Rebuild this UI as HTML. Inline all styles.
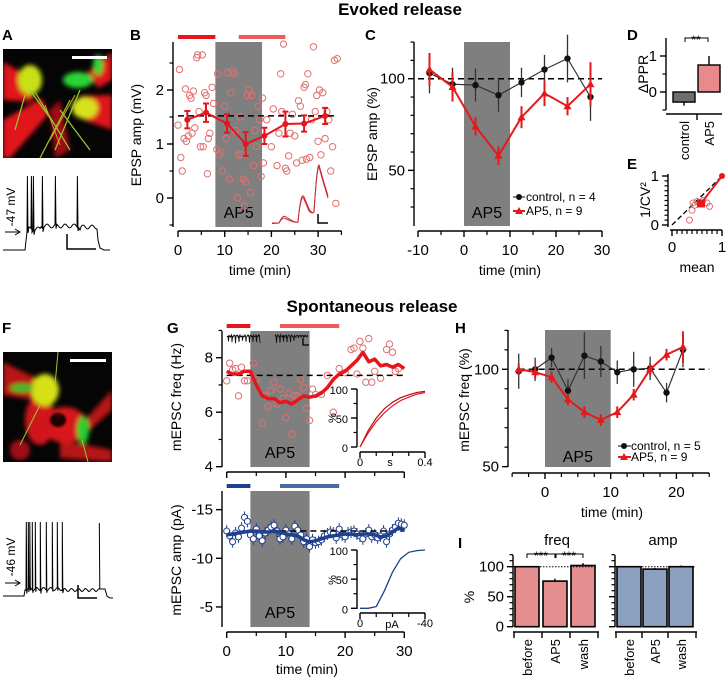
<!DOCTYPE html>
<html><head><meta charset="utf-8">
<style>
html,body{margin:0;padding:0;background:#fff;}
svg{display:block;font-family:"Liberation Sans",Arial,sans-serif;}
</style></head>
<body>
<svg id="fig" width="726" height="681" viewBox="0 0 726 681" xmlns="http://www.w3.org/2000/svg">
<defs>
<filter id="blur2" x="-20%" y="-20%" width="140%" height="140%"><feGaussianBlur stdDeviation="2.5"/></filter>
<filter id="blur1"><feGaussianBlur stdDeviation="1"/></filter>
<clipPath id="clipA"><rect x="3" y="49" width="109" height="109"/></clipPath>
<clipPath id="clipF"><rect x="3" y="352" width="109" height="110"/></clipPath>
</defs>
<text x="400" y="15" text-anchor="middle" font-size="17" font-weight="bold">Evoked release</text>
<text x="372" y="312" text-anchor="middle" font-size="17" font-weight="bold">Spontaneous release</text>
<g font-size="15" font-weight="bold">
<text x="2" y="40">A</text>
<text x="130" y="40">B</text>
<text x="365" y="40">C</text>
<text x="627" y="40">D</text>
<text x="627" y="169">E</text>
<text x="2" y="333">F</text>
<text x="167" y="333">G</text>
<text x="455" y="333">H</text>
<text x="458" y="548">I</text>
</g>
<!-- Image A -->
<g clip-path="url(#clipA)">
<rect x="3" y="49" width="109" height="109" fill="#050505"/>
<g filter="url(#blur2)">
<polygon points="3,62 35,80 32,102 3,100" fill="#e0161a"/>
<polygon points="3,120 42,98 48,115 10,158 3,158" fill="#e0161a"/>
<polygon points="112,52 88,72 98,88 112,80" fill="#e0161a"/>
<polygon points="112,95 80,96 84,120 112,130" fill="#e0161a"/>
<polygon points="50,110 60,100 70,150 55,158" fill="#a01014"/>
<ellipse cx="30" cy="80" rx="12" ry="15" fill="#c9e018"/>
<ellipse cx="85" cy="108" rx="13" ry="11" fill="#d6e21a"/>
<ellipse cx="78" cy="80" rx="15" ry="8" fill="#2bd636"/>
<ellipse cx="98" cy="65" rx="5" ry="10" fill="#2bd636"/>
</g>
<path d="M30,90 L55,125 M35,92 L70,150 M80,90 L55,150 M70,100 L40,158 M25,95 L15,130 M60,110 L90,150" stroke="#9acb30" stroke-width="1.2" fill="none"/>
<path d="M45,105 L60,145 M75,95 L50,140" stroke="#c8a020" stroke-width="1" fill="none"/>
<rect x="72" y="56" width="35" height="3" fill="#fff"/>
</g>
<!-- Image F -->
<g clip-path="url(#clipF)">
<rect x="3" y="352" width="109" height="110" fill="#050505"/>
<g filter="url(#blur2)">
<polygon points="3,362 40,380 35,400 3,395" fill="#b81418"/>
<polygon points="112,390 85,420 90,430 112,410" fill="#b81418"/>
<polygon points="60,440 112,450 112,462 60,458" fill="#b81418"/>
<ellipse cx="65" cy="425" rx="22" ry="18" fill="#d8181c"/>
<ellipse cx="40" cy="420" rx="15" ry="25" fill="#d0161a"/>
<ellipse cx="20" cy="450" rx="10" ry="10" fill="#a01014"/>
<ellipse cx="45" cy="390" rx="14" ry="16" fill="#d6e018"/>
<ellipse cx="83" cy="430" rx="6" ry="14" fill="#22d030"/>
<ellipse cx="22" cy="388" rx="12" ry="4" fill="#20c02a"/>
</g>
<ellipse cx="58" cy="420" rx="8" ry="7" fill="#200000" filter="url(#blur1)"/>
<path d="M55,385 L58,352 M40,405 L20,445 M82,440 L88,462" stroke="#9acb30" stroke-width="1" fill="none"/>
<rect x="70" y="359" width="36" height="3" fill="#fff"/>
</g>
</svg>
<script>
const NS='http://www.w3.org/2000/svg';
const S=document.getElementById('fig');
function mk(tag,a,p){const e=document.createElementNS(NS,tag);for(const k in a)e.setAttribute(k,a[k]);(p||S).appendChild(e);return e;}
function txt(x,y,s,a,p){const e=mk('text',Object.assign({x:x,y:y},a||{}),p);e.textContent=s;return e;}
function grp(name){const g=mk('g',{});return g;}
function yAx(g,x,y1,y2,maj,lab,min,sc,fs){
  mk('line',{x1:x,x2:x,y1:y1,y2:y2,stroke:'#000','stroke-width':1.4},g);
  maj.forEach((v,i)=>{const y=sc(v);mk('line',{x1:x-6,x2:x,y1:y,y2:y,stroke:'#000','stroke-width':1.4},g);
    const t=txt(x-9,y+5,lab[i],{'text-anchor':'end','font-size':fs||15},g);
    
    });
  min.forEach(v=>{const y=sc(v);mk('line',{x1:x-3.5,x2:x,y1:y,y2:y,stroke:'#000','stroke-width':1.2},g);});
}
function xAx(g,y,x1,x2,maj,lab,min,sc,fs,off){
  mk('line',{x1:x1,x2:x2,y1:y,y2:y,stroke:'#000','stroke-width':1.4},g);
  maj.forEach((v,i)=>{const x=sc(v);mk('line',{x1:x,x2:x,y1:y,y2:y+6,stroke:'#000','stroke-width':1.4},g);
    if(lab){const t=txt(x,y+(off||23),lab[i],{'text-anchor':'middle','font-size':fs||15},g);
    
    }});
  min.forEach(v=>{const x=sc(v);mk('line',{x1:x,x2:x,y1:y,y2:y+4,stroke:'#000','stroke-width':1.2},g);});
}
function ylabel(x,y,s,fs,name){const t=txt(0,0,s,{'text-anchor':'middle','font-size':fs||14,transform:'translate('+x+','+y+') rotate(-90)'});
  
  return t;}
function pathD(pts){return pts.map((p,i)=>(i?'L':'M')+p[0].toFixed(1)+','+p[1].toFixed(1)).join(' ');}
function tri(x,y,r){return (x)+','+(y-r)+' '+(x-r)+','+(y+r*0.75)+' '+(x+r)+','+(y+r*0.75);}

/* ===== Panel A & F traces ===== */
(function(){
 const gA=grp('current-clamp-trace-a');
 let p=[[3,250],[25,250],[27,232]];
 const spA=[27,31,33,42,55,77];const plat=x=>229-Math.sin(x*0.7)*2-(x>40&&x<80?3:0);
 let x=27;
 for(const s of spA){while(x<s){x+=1;p.push([x,plat(x)]);}p.push([s+0.4,176]);p.push([s+1,plat(s)+4]);x=s+1;}
 while(x<97){x+=1;p.push([x,plat(x)-(x>80?2:0)]);}
 p.push([98,240],[100,248],[104,250],[110,250]);
 mk('path',{d:pathD(p),fill:'none',stroke:'#000','stroke-width':1},gA);
 mk('path',{d:'M67,234 L67,249 L96,249',fill:'none',stroke:'#000','stroke-width':1.5},gA);
 mk('path',{d:'M5,232 L19,232 M15,229 L20,232 L15,235',fill:'none',stroke:'#000','stroke-width':1},gA);
 ylabel(15,207,'-47 mV',12,'resting-potential-label-a');
 const gF=grp('current-clamp-trace-f');
 p=[[3,596],[24,596],[25,590]];
 const spF=[26,28,29.5,32,35,40,46,52,57,62];const platF=x=>589-Math.sin(x*0.9)*1.5;
 x=25;
 for(const s of spF){while(x<s){x+=0.5;p.push([x,platF(x)]);}p.push([s+0.3,522]);p.push([s+0.8,platF(s)+3]);x=s+0.8;}
 while(x<99){x+=1;p.push([x,platF(x)+1]);}
 p.push([99.3,523],[99.8,589],[105,589],[107,596],[110,598],[113,598]);
 mk('path',{d:pathD(p),fill:'none',stroke:'#000','stroke-width':1},gF);
 mk('path',{d:'M78,585 L78,598 L97,598',fill:'none',stroke:'#000','stroke-width':1.5},gF);
 mk('path',{d:'M5,583 L19,583 M15,580 L20,583 L15,586',fill:'none',stroke:'#000','stroke-width':1},gF);
 ylabel(15,557,'-46 mV',12,'resting-potential-label-f');
})();

/* ===== Panel B data ===== */
const bScatterT=[0,0.3,0.6,0.9,1.3,1.6,1.8,2.2,2.5,2.8,3.0,3.3,3.6,4.0,4.2,4.5,4.8,5.2,5.4,5.7,6.0,6.3,6.5,6.8,7.3,7.6,
 8.3,8.5,8.8,9.2,9.5,10,10.3,10.6,11,11.3,11.7,12,12.3,12.7,13,13.3,13.6,14,14.2,14.5,14.8,15.2,15.5,15.8,16.2,16.5,16.8,17.2,17.5,17.8,18.1,
 18.3,19,20,20.4,21.2,21.6,22,22.2,22.6,23,23.3,23.7,24,24.5,25,25.4,25.8,26.2,26.6,27,27.3,27.5,27.8,28.2,28.6,29,29.4,29.7,30,30.3,30.6,31,31.5,31.9,32.3,32.7,33.1,33.5,33.8,34.1];
const bScatterV=[1.35,2.38,0.75,0.5,1.1,2.02,1.05,1.15,1.9,1.85,1.2,1.98,1.3,2.6,2.65,1.6,0.95,2.65,0.95,1.95,1.9,0.45,1.1,1.2,2.05,1.75,
 0.9,2.3,0.8,0.85,0.5,1.7,1.1,2.32,0.35,1.95,2.35,2.3,1.25,0,0.8,1.5,0.8,0.35,-0.15,0.3,1.9,2.0,0.1,1.9,0.6,1.25,0.95,1.7,1.45,0.4,1.85,
 0.65,1.45,0.95,1.65,0.6,1.2,2.3,1.6,2.85,0.55,0.5,0.78,1.2,1.55,1.15,0.65,1.8,1.7,0.7,2.05,2.1,0.72,2.3,0.75,1.45,2.8,1.6,1.9,1.05,2.0,0.8,1.95,1.1,1.6,1.45,0.5,0.95,2.55,-0.1,2.58];
const bMeanT=[2,6,10.5,14.5,18.5,23,27,31.5];
const bMeanV=[1.45,1.58,1.38,1.0,1.15,1.37,1.38,1.52];
const bMeanErr=[0.16,0.17,0.17,0.22,0.15,0.23,0.15,0.15];
const bBaseline=1.52;
(function(){
 const xB=t=>178+4.67*t, yB=v=>198-54*v;
 const g=grp('panel-b-epsp-amplitude');
 const sh=mk('rect',{x:xB(8),y:42,width:xB(18)-xB(8),height:185,fill:'#7f7f7f'},g);
 
 
 const l=txt(xB(13),218,'AP5',{'text-anchor':'middle','font-size':16},g);
 
 
 const b1=mk('rect',{x:xB(0),y:35,width:xB(8)-xB(0),height:4,fill:'#e8141c'},g);
 
 
 const b2=mk('rect',{x:xB(13),y:35,width:xB(23)-xB(13),height:4,fill:'#ef5a5a'},g);
 
 
 bScatterT.forEach((t,i)=>{const c=mk('circle',{cx:xB(t),cy:yB(bScatterV[i]),r:3.2,fill:'none',stroke:'#e07070','stroke-width':1},g);
  
  });
 const d=mk('line',{x1:xB(0),x2:xB(34),y1:yB(bBaseline),y2:yB(bBaseline),stroke:'#000','stroke-width':1.5,'stroke-dasharray':'6,4'},g);
 
 
 const ml=mk('path',{d:pathD(bMeanT.map((t,i)=>[xB(t),yB(bMeanV[i])])),fill:'none',stroke:'#e8141c','stroke-width':2},g);
 
 
 bMeanT.forEach((t,i)=>{const x=xB(t),y1=yB(bMeanV[i]+bMeanErr[i]),y2=yB(bMeanV[i]-bMeanErr[i]);
  mk('path',{d:`M${x},${y1} L${x},${y2} M${x-3},${y1} L${x+3},${y1} M${x-3},${y2} L${x+3},${y2}`,stroke:'#e8141c','stroke-width':2,fill:'none'},g);
  const c=mk('circle',{cx:x,cy:yB(bMeanV[i]),r:3,fill:'#e8141c'},g);
  
  });
 const ins=grp('epsp-inset-trace');
 [[0,'#e8141c'],[2,'#c0303a']].forEach(o=>{const k=o[0];
  mk('path',{d:`M272,${223+k*0.3} L279,${223} Q283,${214+k} 286,${217+k} L291,${220+k*0.5} Q296,${223} 298,${222} Q301,${190+k} 304,${197+k} L309,${209+k} Q312,${214} 314,${212} Q317,${164+k} 319,${165+k} Q323,${180+k} 328,${196+k}`,fill:'none',stroke:o[1],'stroke-width':1},ins);});
 mk('path',{d:'M318,214 L318,223 L328,223',fill:'none',stroke:'#000','stroke-width':1.5},ins);
 yAx(g,173,42,227,[0,1,2],['0','1','2'],[-0.5,0.5,1.5,2.5],yB,15);
 xAx(g,231,xB(0),xB(35),[0,10,20,30],['0','10','20','30'],[5,15,25,35],xB,15,24);
 ylabel(141,135,'EPSP amp (mV)',14,'y-axis-title-b');
 const xt=txt(260,275,'time (min)',{'text-anchor':'middle','font-size':14},g);
 
 
})();

/* ===== Panel C data ===== */
const cTimes=[-7.5,-2.5,2.5,7.5,12.5,17.5,22.5,27.5];
const cControl=[103,97,96.5,91,98,105,111,90];
const cControlErr=[11,9,9,9,8,8,13,13];
const cAP5=[105,95.5,74,58,79,92,85,97];
const cAP5Err=[9,8,5,5,6,7,5,12];
(function(){
 const xC=t=>464+4.6*t, yC=p=>78.7-(p-100)*1.833;
 const g=grp('panel-c-epsp-normalized');
 const sh=mk('rect',{x:xC(0),y:42,width:xC(10)-xC(0),height:184,fill:'#7f7f7f'},g);
 
 
 const l=txt(xC(5),218,'AP5',{'text-anchor':'middle','font-size':16},g);
 
 
 const d=mk('line',{x1:xC(-10),x2:xC(30),y1:yC(100),y2:yC(100),stroke:'#000','stroke-width':1.5,'stroke-dasharray':'6,4'},g);
 
 
 cTimes.forEach((t,i)=>{mk('line',{x1:xC(t),x2:xC(t),y1:yC(cControl[i]+cControlErr[i]),y2:yC(cControl[i]-cControlErr[i]),stroke:'#333','stroke-width':1.3},g);});
 const lc=mk('path',{d:pathD(cTimes.map((t,i)=>[xC(t),yC(cControl[i])])),fill:'none',stroke:'#333','stroke-width':1.2},g);
 
 
 cTimes.forEach((t,i)=>{const c=mk('circle',{cx:xC(t),cy:yC(cControl[i]),r:3.2,fill:'#111'},g);
  
  });
 cTimes.forEach((t,i)=>{mk('line',{x1:xC(t),x2:xC(t),y1:yC(cAP5[i]+cAP5Err[i]),y2:yC(cAP5[i]-cAP5Err[i]),stroke:'#e31a1c','stroke-width':2},g);});
 const la=mk('path',{d:pathD(cTimes.map((t,i)=>[xC(t),yC(cAP5[i])])),fill:'none',stroke:'#e31a1c','stroke-width':2},g);
 
 
 cTimes.forEach((t,i)=>{const c=mk('polygon',{points:tri(xC(t),yC(cAP5[i]),4),fill:'#e31a1c'},g);
  
  });
 const lg=grp('legend-c');
 mk('line',{x1:513,x2:525,y1:197,y2:197,stroke:'#333','stroke-width':1.2},lg);
 mk('circle',{cx:519,cy:197,r:3,fill:'#111'},lg);
 const t1=txt(526,201,'control, n = 4',{'font-size':12},lg);
 
 
 mk('line',{x1:513,x2:525,y1:211,y2:211,stroke:'#e31a1c','stroke-width':2},lg);
 mk('polygon',{points:tri(519,211,4),fill:'#e31a1c'},lg);
 const t2=txt(526,215,'AP5, n = 9',{'font-size':12},lg);
 
 
 yAx(g,414,42,226,[50,100],['50','100'],[30,40,60,70,80,90,110,120],yC,15);
 xAx(g,231,xC(-10),xC(30),[-10,0,10,20,30],['-10','0','10','20','30'],[-5,5,15,25],xC,15,24);
 ylabel(377,134,'EPSP amp (%)',14,'y-axis-title-c');
 const xt=txt(510,275,'time (min)',{'text-anchor':'middle','font-size':14},g);
 
 
})();

/* ===== Panel D data ===== */
const dGroups=['control','AP5'];
const dValues=[-0.28,0.75];
const dErr=[0.1,0.25];
(function(){
 const yD=v=>92-36*v;
 const g=grp('panel-d-ppr-change');
 const cols=['#6e6e6e','#e8898a'];const xs=[673,698];
 dGroups.forEach((n,i)=>{const v=dValues[i];
  mk('line',{x1:xs[i]+11,x2:xs[i]+11,y1:yD(v+(v>0?dErr[i]:-dErr[i])),y2:yD(v),stroke:'#000','stroke-width':1.4},g);
  const r=mk('rect',{x:xs[i],y:Math.min(yD(v),yD(0)),width:22,height:Math.abs(yD(v)-yD(0)),fill:cols[i],stroke:'#000','stroke-width':1.4},g);
  
  
  const t=txt(0,0,n,{'text-anchor':'end','font-size':13,transform:'translate('+(xs[i]+16)+',121) rotate(-90)'},g);
  
  });
 mk('path',{d:'M685,42 L685,38 L708,38 L708,42',fill:'none',stroke:'#000','stroke-width':1},g);
 const s=txt(696,44,'**',{'text-anchor':'middle','font-size':12},g);
 
 
 yAx(g,666,38,110,[0,1],['0','1'],[-0.5,0.5],yD,15);
 mk('line',{x1:666,x2:722,y1:114,y2:114,stroke:'#000','stroke-width':1.4},g);
 mk('line',{x1:697,x2:697,y1:114,y2:120,stroke:'#000','stroke-width':1.4},g);
 ylabel(648,74,'ΔPPR',14,'y-axis-title-d');
})();

/* ===== Panel E data ===== */
const eMeanX=[0.35,0.4,0.42,0.45,0.5,0.62,0.7,0.75];
const eInvCV2=[0.1,0.3,0.45,0.4,0.48,0.5,0.45,0.38];
const eAvg=[0.58,0.44];
(function(){
 const xE=m=>672+50*m, yE=v=>225-49*v;
 const g=grp('panel-e-cv-analysis');
 const dl=mk('line',{x1:xE(0),y1:yE(0),x2:xE(1),y2:yE(1),stroke:'#000','stroke-width':1.3,'stroke-dasharray':'5,3'},g);
 
 
 eMeanX.forEach((m,i)=>{const c=mk('circle',{cx:xE(m),cy:yE(eInvCV2[i]),r:3,fill:'none',stroke:'#e07070','stroke-width':1},g);
  
  });
 mk('line',{x1:xE(eAvg[0]),y1:yE(eAvg[1]),x2:xE(1),y2:yE(1),stroke:'#e31a1c','stroke-width':2},g);
 const sq=mk('rect',{x:xE(eAvg[0])-4,y:yE(eAvg[1])-4,width:8,height:8,fill:'#e31a1c'},g);
 
 
 mk('circle',{cx:xE(1),cy:yE(1),r:3,fill:'#e31a1c'},g);
 yAx(g,668,174,227,[0,1],['0','1'],[0.1,0.2,0.3,0.4,0.5,0.6,0.7,0.8,0.9],yE,15);
 xAx(g,230,670,722,[0,1],['0','1'],[0.1,0.2,0.3,0.4,0.5,0.6,0.7,0.8,0.9],xE,15,22);
 ylabel(650,200,'1/CV²',14,'y-axis-title-e');
 const xt=txt(697,272,'mean',{'text-anchor':'middle','font-size':14},g);
 
 
})();

/* ===== Panel G data ===== */
const gScatterT=[0,0.5,1,1.5,2,2.5,3,3.5,4.5,5,6,6.5,7,7.5,8,8.5,9,9.5,10,10.5,11,11.5,12,12.5,13,13.5,14,14.5,15,16,17,18,19,20,21,21.5,22,22.5,23,23.5,24,24.5,25,26,27,27.5,28,28.5,29];
const gScatterF=[7.15,7.8,7.55,7.6,6.6,7.65,7.15,7.15,7.8,7.2,5.6,6.6,6.2,6.8,7.1,6.3,6.85,6.5,5.8,6.7,5.2,6.6,6.6,7.2,6.9,6.15,5.7,6.85,6.65,6.65,7.35,6.0,7.6,7.45,8.3,8.35,7.4,8.6,8.35,7.1,8.7,7.1,7.5,7.25,8.3,8.5,8.2,7.5,7.6];
const gRunT=[0,1,2,3,4,5,6,7,8,9,10,11,12,13,14,15,16,17,18,19,20,21,22,23,24,25,26,27,28,29,30];
const gRunF=[7.5,7.4,7.4,7.5,7.5,7.0,6.6,6.5,6.5,6.35,6.4,6.3,6.45,6.6,6.55,6.6,6.7,6.9,7.2,7.4,7.5,7.7,7.9,8.2,7.85,7.95,7.7,7.75,7.65,7.75,7.6];
const gFreqBaseline=7.35;
const gAmpT=[0,0.5,1,1.5,2,2.5,3,3.5,4,4.5,5,5.5,6,6.5,7,7.5,8,8.5,9,9.5,10,10.5,11,11.5,12,12.5,13,13.5,14,14.5,15,15.5,16,16.5,17,17.5,18,18.5,19,19.5,20,20.5,21,21.5,22,22.5,23,23.5,24,24.5,25,25.5,26,26.5,27,27.5,28,28.5,29,29.5,30];
const gAmp=[-12.8,-12.3,-11.7,-12.6,-12.2,-13.1,-14.2,-13.8,-12.4,-12.0,-13.0,-12.3,-11.8,-12.6,-12.9,-13.2,-13.4,-12.8,-12.0,-12.2,-12.9,-12.5,-12.0,-13.3,-12.9,-12.4,-11.7,-12.0,-11.2,-11.9,-11.6,-11.7,-11.9,-12.3,-12.5,-12.7,-12.6,-12.1,-13.0,-12.4,-12.2,-12.6,-12.7,-12.8,-12.5,-12.3,-12.0,-12.5,-12.9,-12.2,-12.4,-12.1,-12.3,-12.8,-11.7,-12.5,-12.9,-13.2,-13.6,-13.5,-13.4];
const gAmpRun=[-12.4,-12.5,-12.6,-12.7,-12.8,-12.8,-12.7,-12.7,-12.8,-12.7,-12.5,-12.4,-12.3,-11.9,-11.7,-11.8,-12.0,-12.2,-12.3,-12.4,-12.5,-12.5,-12.4,-12.5,-12.5,-12.4,-12.2,-12.3,-12.7,-13.1,-12.9];
const gAmpBaseline=-12.8;
const cdfS=[0,0.05,0.1,0.15,0.2,0.25,0.3,0.35,0.4];
const cdfBefore=[0,28,50,66,77,85,90,94,96];
const cdfAP5=[0,24,44,59,71,80,86,91,94];
const cdfA=[0,-5,-10,-15,-20,-25,-30,-35,-40];
const cdfAmp=[0,0,3,30,62,85,96,99,100];
(function(){
 const xG=t=>226.7+5.92*t, yF=f=>466.7-(f-4)*27.25, yA=a=>558.3+(a+10)*9.73;
 const g=grp('panel-g-mepsc-timecourse');
 [[331,467],[491,627]].forEach(r=>{const sh=mk('rect',{x:xG(4),y:r[0],width:xG(14)-xG(4),height:r[1]-r[0],fill:'#7f7f7f'},g);
  
  
  const l=txt(xG(9),r[1]-9,'AP5',{'text-anchor':'middle','font-size':16},g);
  
  });
 const bars=[[0,4,324,'#e8141c'],[9,19,324,'#ef5a5a'],[0,4,484,'#1f3f8f'],[9,19,484,'#4a6aa0']];
 bars.forEach(b=>{const r=mk('rect',{x:xG(b[0]),y:b[2],width:xG(b[1])-xG(b[0]),height:4,fill:b[3]},g);
  
  });
 const tr=grp('mepsc-sample-traces');
 [[227,260],[275,308]].forEach((s,k)=>{let p=[];for(let x=s[0];x<=s[1];x+=0.5){let y=336+Math.sin(x*2.3)*0.8+Math.sin(x*5.1)*0.6;
   if(Math.abs(Math.sin(x*0.9+k))>0.99)y+=6;p.push([x,y]);}
  mk('path',{d:pathD(p),fill:'none',stroke:'#111','stroke-width':0.9},tr);});
 mk('path',{d:'M303,338 L303,345 L309,345',fill:'none',stroke:'#000','stroke-width':1.3},tr);
 gScatterT.forEach((t,i)=>{const c=mk('circle',{cx:xG(t),cy:yF(gScatterF[i]),r:3.2,fill:'none',stroke:'#e07070','stroke-width':1},g);
  
  });
 const d1=mk('line',{x1:xG(0),x2:xG(30),y1:yF(gFreqBaseline),y2:yF(gFreqBaseline),stroke:'#000','stroke-width':1.5,'stroke-dasharray':'6,4'},g);
 
 
 const rf=mk('path',{d:pathD(gRunT.map((t,i)=>[xG(t),yF(gRunF[i])])),fill:'none',stroke:'#e8141c','stroke-width':3.5,'stroke-linejoin':'round'},g);
 
 
 gAmpT.forEach((t,i)=>{const x=xG(t),y=yA(gAmp[i]);
  mk('line',{x1:x,x2:x,y1:y-6,y2:y+6,stroke:'#1f3f8f','stroke-width':1},g);
  const c=mk('circle',{cx:x,cy:y,r:3,fill:'#fff',stroke:'#1f3f8f','stroke-width':1},g);
  
  });
 const d2=mk('line',{x1:xG(4),x2:xG(30),y1:yA(gAmpBaseline),y2:yA(gAmpBaseline),stroke:'#000','stroke-width':1.5,'stroke-dasharray':'6,4'},g);
 
 
 const ra=mk('path',{d:pathD(gRunT.map((t,i)=>[xG(t),yA(gAmpRun[i])])),fill:'none',stroke:'#1f3f8f','stroke-width':3.5,'stroke-linejoin':'round'},g);
 
 
 const i1=grp('inset-cdf-interval');
 const xi=s=>360+162.5*s, yi=p=>447-0.58*p;
 const c1=mk('path',{d:pathD(cdfS.map((s,i)=>[xi(s),yi(cdfBefore[i])])),fill:'none',stroke:'#b0101a','stroke-width':1.2},i1);
 
 
 const c2=mk('path',{d:pathD(cdfS.map((s,i)=>[xi(s),yi(cdfAP5[i])])),fill:'none',stroke:'#e8141c','stroke-width':1.2},i1);
 
 
 yAx(i1,357,389,447,[0,50,100],['0','50','100'],[25,75],yi,11);
 xAx(i1,452,360,425,[0,0.4],['0','0.4'],[0.1,0.2,0.3],xi,11,14);
 const p1=txt(0,0,'%',{'font-size':11,'text-anchor':'middle',transform:'translate(336,418) rotate(-90)'},i1);
 
 
 const s1=txt(390,466,'s',{'font-size':11,'text-anchor':'middle'},i1);
 
 
 const i2=grp('inset-cdf-amplitude');
 const xa=a=>360-1.625*a, ya=p=>608.3-0.583*p;
 const c3=mk('path',{d:pathD(cdfA.map((a,i)=>[xa(a),ya(cdfAmp[i])])),fill:'none',stroke:'#1f3f8f','stroke-width':1.3},i2);
 
 
 yAx(i2,357,550,609,[0,50,100],['0','50','100'],[25,75],ya,11);
 xAx(i2,613,360,425,[0,-40],['0','-40'],[-10,-20,-30],xa,11,14);
 const p2=txt(0,0,'%',{'font-size':11,'text-anchor':'middle',transform:'translate(336,580) rotate(-90)'},i2);
 
 
 const s2=txt(392,628,'pA',{'font-size':11,'text-anchor':'middle'},i2);
 
 
 yAx(g,222,331,467,[4,6,8],['4','6','8'],[5,7,9],yF,15);
 xAx(g,472,xG(0),xG(30),[0,10,20,30],null,[5,15,25],xG);
 yAx(g,222,491,627,[-15,-10,-5],['-15','-10','-5'],[],yA,15);
 xAx(g,632,xG(0),xG(30),[0,10,20,30],['0','10','20','30'],[5,15,25],xG,15,24);
 ylabel(181,397,'mEPSC freq (Hz)',14,'y-axis-title-g-freq');
 ylabel(181,560,'mEPSC amp (pA)',14,'y-axis-title-g-amp');
 const xt=txt(307,674,'time (min)',{'text-anchor':'middle','font-size':14},g);
 
 
})();

/* ===== Panel H data ===== */
const hTimes=[-4,-1.5,1,3.5,6,8.5,11,13.5,16,18.5,21];
const hControl=[99,100,106,89,107,104,98.5,100,100.5,88,110];
const hControlErr=[9,6,5,6,12,8,6,9,6,5,9];
const hAP5=[100,98.5,96,84.5,78,74,78,87,100,107.5,111.5];
const hAP5Err=[3,3,3,3,3,3,3,3,3,3,8];
(function(){
 const xH=t=>545+6.57*t, yH=p=>369.3-(p-100)*1.947;
 const g=grp('panel-h-mepsc-freq-normalized');
 const sh=mk('rect',{x:xH(0),y:330,width:xH(10)-xH(0),height:137,fill:'#7f7f7f'},g);
 
 
 const l=txt(xH(5),462,'AP5',{'text-anchor':'middle','font-size':16},g);
 
 
 const d=mk('line',{x1:xH(-4),x2:xH(25),y1:yH(100),y2:yH(100),stroke:'#000','stroke-width':1.5,'stroke-dasharray':'6,4'},g);
 
 
 hTimes.forEach((t,i)=>{mk('line',{x1:xH(t),x2:xH(t),y1:yH(hControl[i]+hControlErr[i]),y2:yH(hControl[i]-hControlErr[i]),stroke:'#333','stroke-width':1.3},g);});
 const lc=mk('path',{d:pathD(hTimes.map((t,i)=>[xH(t),yH(hControl[i])])),fill:'none',stroke:'#333','stroke-width':1.2},g);
 
 
 hTimes.forEach((t,i)=>{const c=mk('circle',{cx:xH(t),cy:yH(hControl[i]),r:3.2,fill:'#111'},g);
  
  });
 hTimes.forEach((t,i)=>{mk('line',{x1:xH(t),x2:xH(t),y1:yH(hAP5[i]+hAP5Err[i]),y2:yH(hAP5[i]-hAP5Err[i]),stroke:'#e31a1c','stroke-width':2},g);});
 const la=mk('path',{d:pathD(hTimes.map((t,i)=>[xH(t),yH(hAP5[i])])),fill:'none',stroke:'#e31a1c','stroke-width':2},g);
 
 
 hTimes.forEach((t,i)=>{const c=mk('polygon',{points:tri(xH(t),yH(hAP5[i]),4),fill:'#e31a1c'},g);
  
  });
 const lg=grp('legend-h');
 mk('line',{x1:618,x2:631,y1:446,y2:446,stroke:'#333','stroke-width':1.2},lg);
 mk('circle',{cx:624,cy:446,r:3,fill:'#111'},lg);
 const t1=txt(631,450,'control, n = 5',{'font-size':12},lg);
 
 
 mk('line',{x1:618,x2:631,y1:457,y2:457,stroke:'#e31a1c','stroke-width':2},lg);
 mk('polygon',{points:tri(624,457,4),fill:'#e31a1c'},lg);
 const t2=txt(631,461,'AP5, n = 9',{'font-size':12},lg);
 
 
 yAx(g,508,330,467,[50,100],['50','100'],[60,70,80,90,110,120],yH,15);
 xAx(g,473,xH(-5),xH(25),[0,10,20],['0','10','20'],[-5,-2.5,2.5,5,7.5,12.5,15,17.5,22.5,25],xH,15,24);
 ylabel(469,400,'mEPSC freq (%)',14,'y-axis-title-h');
 const xt=txt(612,517,'time (min)',{'text-anchor':'middle','font-size':14},g);
 
 
})();

/* ===== Panel I data ===== */
const iCats=['before','AP5','wash'];
const iFreq=[100,76,102];
const iFreqErr=[0,4,4];
const iAmp=[100,96,100];
const iAmpErr=[0,2,2];
(function(){
 const yI=p=>626.7-0.6*p;
 const sub=[['freq',513,[515,543,571],iFreq,iFreqErr,'#e48e90',557],['amp',615,[617,643,669],iAmp,iAmpErr,'#8ca0c0',663]];
 sub.forEach(s=>{
  const g=grp('panel-i-'+s[0]+'-bars');
  const ti=txt(s[6],545,s[0],{'text-anchor':'middle','font-size':15},g);
  
  
  iCats.forEach((c,i)=>{const v=s[3][i],x=s[2][i];
   mk('line',{x1:x+12,x2:x+12,y1:yI(v+s[4][i]),y2:yI(v),stroke:'#000','stroke-width':1.4},g);
   const r=mk('rect',{x:x,y:yI(v),width:24,height:yI(0)-yI(v),fill:s[5],stroke:'#000','stroke-width':1.6},g);
   
   
   const t=txt(0,0,c,{'text-anchor':'end','font-size':13,transform:'translate('+(x+17)+',639) rotate(-90)'},g);
   
   });
  const dl=mk('line',{x1:s[1],x2:s[2][2]+26,y1:yI(100),y2:yI(100),stroke:'#000','stroke-width':1,'stroke-dasharray':'1.5,1.5'},g);
  
  
  yAx(g,s[1],555,627,[0,50,100],s[0]==='freq'?['0','50','100']:['','',''],[10,20,30,40,60,70,80,90,110,120],yI,15);
  mk('line',{x1:s[1],x2:s[2][2]+28,y1:632,y2:632,stroke:'#000','stroke-width':1.4},g);
  s[2].forEach(x=>mk('line',{x1:x-1,x2:x-1,y1:632,y2:638,stroke:'#000','stroke-width':1.4},g));
  mk('line',{x1:s[2][2]+27,x2:s[2][2]+27,y1:632,y2:638,stroke:'#000','stroke-width':1.4},g);
 });
 const sg=grp('significance-brackets-i');
 mk('path',{d:'M527,558 L527,554 L555,554 L555,558 M556,558 L556,554 L583,554 L583,558',fill:'none',stroke:'#000','stroke-width':1},sg);
 const a=txt(541,560,'***',{'text-anchor':'middle','font-size':12},sg);
 
 
 const b=txt(569,560,'***',{'text-anchor':'middle','font-size':12},sg);
 
 
 ylabel(474,597,'%',14,'y-axis-title-i');
})();
</script>
</body></html>
